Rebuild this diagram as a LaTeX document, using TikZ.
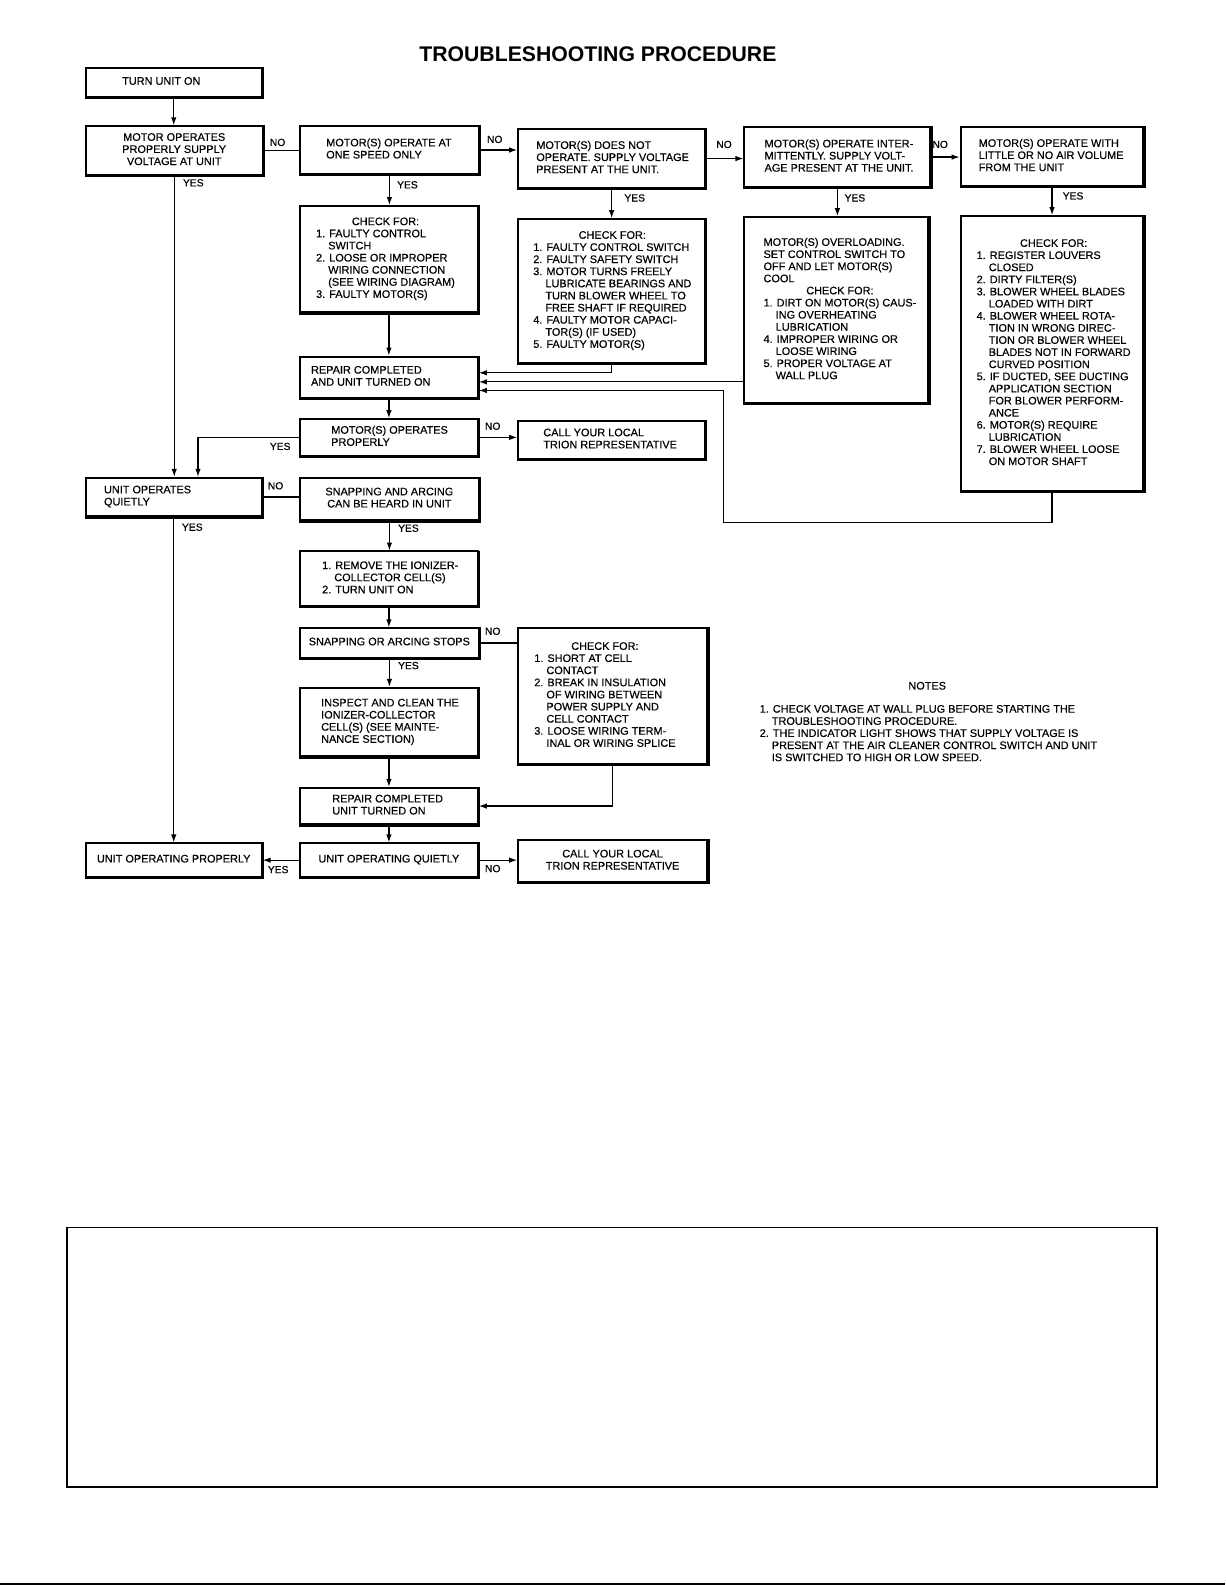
\documentclass[tikz,border=0pt]{standalone}
\usepackage{fontspec}
\setmainfont{Liberation Sans}
\newfontfamily\bodyfam{Liberation Sans}[FakeBold=0.4]
\usetikzlibrary{arrows.meta}
\newcommand{\bodyf}{\bodyfam\fontsize{10.8}{12}\selectfont}
\newcommand{\lblf}{\bodyfam\fontsize{10.2}{12}\selectfont}
\newcommand{\titlef}{\fontsize{21}{24}\selectfont\bfseries}
\newcommand{\bxl}[3]{\makebox[#2pt][l]{\hspace*{#1pt}\begin{tabular}{@{}l@{}}#3\end{tabular}}}
\newcommand{\bxc}[1]{\begin{tabular}{@{}c@{}}#1\end{tabular}}
\newcommand{\hin}{\phantom{1.\ }}
\newcommand{\ckf}{\multicolumn{1}{@{}c@{}}{CHECK FOR:}}
\begin{document}
\begin{tikzpicture}[x=1pt,y=-1pt,scale=1.01,transform shape,
  bx/.style={draw, line width=2pt, inner sep=0pt, anchor=north west, font=\bodyf},
  ln/.style={line width=1.2pt},
  arr/.style={line width=1.2pt, -{Latex[length=8pt,width=5.5pt]}},
  lbl/.style={inner sep=0pt, anchor=west, font=\lblf}]
\useasboundingbox (0,0) rectangle (1212.87,1569.31);

\node[inner sep=0pt, font=\titlef] (title) at (592,54) {TROUBLESHOOTING PROCEDURE};

% boxes
\node[bx, minimum width=174pt, minimum height=29pt] (A) at (84,66) {\bxl{36}{174}{TURN UNIT ON}};
\node[bx, minimum width=175pt, minimum height=48pt] (B) at (84,124) {\bxc{MOTOR OPERATES\\PROPERLY SUPPLY\\VOLTAGE AT UNIT}};
\node[bx, minimum width=177pt, minimum height=47pt] (C) at (296,124) {\bxl{26}{177}{MOTOR(S) OPERATE AT\\ONE SPEED ONLY}};
\node[bx, minimum width=185pt, minimum height=58pt] (D) at (512,127) {\bxl{18}{185}{MOTOR(S) DOES NOT\\OPERATE. SUPPLY VOLTAGE\\PRESENT AT THE UNIT.}};
\node[bx, minimum width=184pt, minimum height=59pt] (E) at (736,125) {\bxl{20}{184}{MOTOR(S) OPERATE INTER-\\MITTENTLY. SUPPLY VOLT-\\AGE PRESENT AT THE UNIT.}};
\node[bx, minimum width=181pt, minimum height=58pt] (F) at (950,125) {\bxl{18}{181}{MOTOR(S) OPERATE WITH\\LITTLE OR NO AIR VOLUME\\FROM THE UNIT}};
\node[bx, minimum width=176pt, minimum height=105pt] (G) at (296,203) {\bxl{16}{176}{\ckf\\1. FAULTY CONTROL\\\hin SWITCH\\2. LOOSE OR IMPROPER\\\hin WIRING CONNECTION\\\hin (SEE WIRING DIAGRAM)\\3. FAULTY MOTOR(S)}};
\node[bx, minimum width=185pt, minimum height=142pt] (H) at (512,216) {\bxl{15}{185}{\ckf\\1. FAULTY CONTROL SWITCH\\2. FAULTY SAFETY SWITCH\\3. MOTOR TURNS FREELY\\\hin LUBRICATE BEARINGS AND\\\hin TURN BLOWER WHEEL TO\\\hin FREE SHAFT IF REQUIRED\\4. FAULTY MOTOR CAPACI-\\\hin TOR(S) (IF USED)\\5. FAULTY MOTOR(S)}};
\node[bx, minimum width=182pt, minimum height=184pt] (I) at (736,214) {\bxl{19}{182}{MOTOR(S) OVERLOADING.\\SET CONTROL SWITCH TO\\OFF AND LET MOTOR(S)\\COOL\\\ckf\\1. DIRT ON MOTOR(S) CAUS-\\\hin ING OVERHEATING\\\hin LUBRICATION\\4. IMPROPER WIRING OR\\\hin LOOSE WIRING\\5. PROPER VOLTAGE AT\\\hin WALL PLUG}};
\node[bx, minimum width=181pt, minimum height=272pt] (J) at (950,213) {\bxl{16}{181}{\ckf\\1. REGISTER LOUVERS\\\hin CLOSED\\2. DIRTY FILTER(S)\\3. BLOWER WHEEL BLADES\\\hin LOADED WITH DIRT\\4. BLOWER WHEEL ROTA-\\\hin TION IN WRONG DIREC-\\\hin TION OR BLOWER WHEEL\\\hin BLADES NOT IN FORWARD\\\hin CURVED POSITION\\5. IF DUCTED, SEE DUCTING\\\hin APPLICATION SECTION\\\hin FOR BLOWER PERFORM-\\\hin ANCE\\6. MOTOR(S) REQUIRE\\\hin LUBRICATION\\7. BLOWER WHEEL LOOSE\\\hin ON MOTOR SHAFT}};
\node[bx, minimum width=176pt, minimum height=41pt] (K) at (296,352) {\bxl{11}{176}{REPAIR COMPLETED\\AND UNIT TURNED ON}};
\node[bx, minimum width=176pt, minimum height=36pt] (L) at (296,414) {\bxl{31}{176}{MOTOR(S) OPERATES\\PROPERLY}};
\node[bx, minimum width=185pt, minimum height=37pt] (M) at (512,416) {\bxl{25}{185}{CALL YOUR LOCAL\\TRION REPRESENTATIVE}};
\node[bx, minimum width=174pt, minimum height=38pt] (N) at (84,472) {\bxl{18}{174}{UNIT OPERATES\\QUIETLY}};
\node[bx, minimum width=177pt, minimum height=42pt] (O) at (296,472) {\bxc{SNAPPING AND ARCING\\CAN BE HEARD IN UNIT}};
\node[bx, minimum width=176pt, minimum height=54pt] (P) at (296,545) {\bxl{22}{176}{1. REMOVE THE IONIZER-\\\hin COLLECTOR CELL(S)\\2. TURN UNIT ON}};
\node[bx, minimum width=177pt, minimum height=29pt] (Q) at (296,621) {\bxc{SNAPPING OR ARCING STOPS}};
\node[bx, minimum width=187pt, minimum height=134pt] (R) at (512,621) {\bxl{16}{187}{\ckf\\1. SHORT AT CELL\\\hin CONTACT\\2. BREAK IN INSULATION\\\hin OF WIRING BETWEEN\\\hin POWER SUPPLY AND\\\hin CELL CONTACT\\3. LOOSE WIRING TERM-\\\hin INAL OR WIRING SPLICE}};
\node[bx, minimum width=176pt, minimum height=68pt] (S) at (296,680) {\bxl{21}{176}{INSPECT AND CLEAN THE\\IONIZER-COLLECTOR\\CELL(S) (SEE MAINTE-\\NANCE SECTION)}};
\node[bx, minimum width=176pt, minimum height=36pt] (T) at (296,779) {\bxl{32}{176}{REPAIR COMPLETED\\UNIT TURNED ON}};
\node[bx, minimum width=176pt, minimum height=33pt] (U) at (296,834) {\bxc{UNIT OPERATING QUIETLY}};
\node[bx, minimum width=174pt, minimum height=33pt] (V) at (84,834) {\bxc{UNIT OPERATING PROPERLY}};
\node[bx, minimum width=187pt, minimum height=41pt] (W) at (512,831) {\bxc{CALL YOUR LOCAL\\TRION REPRESENTATIVE}};

\foreach \n in {A,B,C,D,E,F,G,H,I,J,K,L,M,N,O,P,Q,R,S,T,U,V,W}
  \draw[line width=2.8pt] (\n.north east) -- (\n.south east) -- (\n.south west);

% connectors
\draw[arr] (A.south) -- (A.south |- B.north);
\draw[ln]  (B.east) -- (B.east -| C.west);
\draw[arr] (C.east) -- (C.east -| D.west);
\draw[arr] (D.east) -- (D.east -| E.west);
\draw[arr] (E.east) -- (E.east -| F.west);
\draw[arr] (C.south) -- (C.south |- G.north);
\draw[arr] (D.south) -- (D.south |- H.north);
\draw[arr] (E.south) -- (E.south |- I.north);
\draw[arr] (F.south) -- (F.south |- J.north);
\draw[arr] (G.south) -- (G.south |- K.north);
\coordinate (k1) at ([yshift=4.5pt]K.east);
\coordinate (k2) at ([yshift=-4.5pt]K.east);
\coordinate (k3) at ([yshift=-13pt]K.east);
\draw[arr] (H.south) |- (k1);
\draw[arr] (k2 -| I.west) -- (k2);
\coordinate (jturn) at (716,517);
\draw[arr] (J.south) |- (jturn) |- (k3);
\draw[arr] (K.south) -- (K.south |- L.north);
\draw[arr] (L.east) -- (L.east -| M.west);
\draw[arr] (L.west) -| ([xshift=24pt]N.north);
\draw[arr] (B.south) -- (B.south |- N.north);
\draw[ln]  (N.east) -- (N.east -| O.west);
\draw[arr] (O.south) -- (O.south |- P.north);
\draw[arr] (P.south) -- (P.south |- Q.north);
\draw[ln]  (Q.east) -- (Q.east -| R.west);
\draw[arr] (Q.south) -- (Q.south |- S.north);
\draw[arr] (S.south) -- (S.south |- T.north);
\draw[arr] (R.south) |- (T.east);
\draw[arr] (T.south) -- (T.south |- U.north);
\draw[arr] (U.west) -- (U.west -| V.east);
\draw[arr] (U.east) -- (U.east -| W.west);
\draw[arr] (N.south) -- (N.south |- V.north);

% labels
\node[lbl] (yB) at (181,181) {YES};
\node[lbl] (nB) at (267,141) {NO};
\node[lbl] (yC) at (393,183) {YES};
\node[lbl] (nC) at (482,138) {NO};
\node[lbl] (yD) at (618,196) {YES};
\node[lbl] (nD) at (709,143) {NO};
\node[lbl] (yE) at (836,196) {YES};
\node[lbl] (nE) at (923,143) {NO};
\node[lbl] (yF) at (1052,194) {YES};
\node[lbl] (nL) at (480,422) {NO};
\node[lbl] (yL) at (267,442) {YES};
\node[lbl] (nN) at (265,481) {NO};
\node[lbl] (yO) at (394,523) {YES};
\node[lbl] (yN) at (180,522) {YES};
\node[lbl] (nQ) at (480,625) {NO};
\node[lbl] (yQ) at (394,659) {YES};
\node[lbl] (yU) at (265,861) {YES};
\node[lbl] (nU) at (480,860) {NO};

% notes
\node[inner sep=0pt, font=\bodyf] (notes) at (918,679) {NOTES};
\node[inner sep=0pt, anchor=north west, font=\bodyf] (notelist) at (752,697) {\begin{tabular}{@{}l@{}}1. CHECK VOLTAGE AT WALL PLUG BEFORE STARTING THE\\\hin TROUBLESHOOTING PROCEDURE.\\2. THE INDICATOR LIGHT SHOWS THAT SUPPLY VOLTAGE IS\\\hin PRESENT AT THE AIR CLEANER CONTROL SWITCH AND UNIT\\\hin IS SWITCHED TO HIGH OR LOW SPEED.\end{tabular}};

% empty frame and bottom rule
\draw[line width=1.4pt] (66.3,1215.5) rectangle (1145.5,1472.3);
\draw[line width=2pt] (0,1568.5) -- (1212.87,1568.5);
\end{tikzpicture}
\end{document}
